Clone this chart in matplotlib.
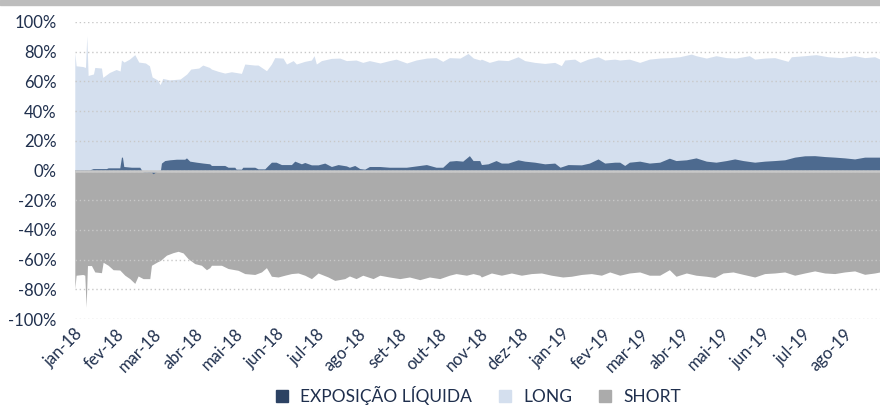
import numpy as np
import pandas as pd
import matplotlib
matplotlib.use("Agg")
import matplotlib.pyplot as plt
from matplotlib.lines import Line2D

plt.rcParams['font.family'] = ['Lato', 'DejaVu Sans']

# dias desde 01/01/2018 e valores (%)
long_dias = [0, 1, 6, 8, 9, 10, 14, 15, 20, 21, 26, 31, 34, 35, 37, 41, 45, 48, 53, 56,
             58, 62, 64, 66, 71, 79, 84, 87, 93, 96, 101, 102.5, 107.5, 112.5, 117.5, 125,
             127.5, 135, 137.5, 143.8, 147.5, 150, 156.2, 158.8, 163.8, 166.2, 172.5, 177.5,
             179.5, 181.2, 185, 192.5, 198.75, 203.75, 211, 216, 221, 229, 236, 241, 249, 256,
             264, 271, 276, 281, 289, 295, 299, 304, 305, 311, 317.5, 325, 332.5, 337.5, 345,
             352.5, 360, 365, 367.5, 375, 379, 385, 392.5, 397.5, 405, 408.75, 416, 423.75,
             431, 438.75, 446, 453.75, 462.5, 466, 473.75, 481, 488.75, 496, 506, 510, 517.5,
             525, 535, 537.5, 547.5, 556, 565, 575, 585, 592.5, 600, 604]
long_vals = [79.5, 70.5, 70, 69.4, 90.7, 64, 65, 69.4, 69, 62.7, 66, 68, 67, 74.4, 73, 75, 78,
             73, 72.4, 70.5, 63, 61, 57.8, 62, 61, 61.6, 65, 68.3, 69, 71, 69.4, 68.3, 66.8,
             65.6, 66.5, 65.4, 71.7, 71, 71, 67.2, 71.7, 76, 75.7, 71.7, 74, 71.7, 73.5, 74.4,
             77.3, 71.7, 74, 75.5, 75.7, 74, 74.4, 72.8, 74, 72.4, 74, 75, 72.4, 74.4, 75.7, 76,
             73.5, 76, 75.7, 78.8, 75.7, 74.4, 75, 72.8, 74.4, 74, 76.6, 74, 72.8, 72.1, 72.8,
             70.6, 74.4, 75, 72.8, 75, 76.6, 74.4, 75, 74.4, 75, 72.8, 75, 75.7, 76, 76.6, 78.4,
             77.3, 75.7, 77.3, 76, 75.7, 77.3, 75, 75.7, 76, 73.5, 76.6, 77.3, 78, 76.6, 76,
             77.3, 76, 76.6, 75]

short_dias = [0, 1, 6, 7.5, 8.5, 9.5, 12.5, 15, 20, 21.25, 25, 28.75, 33.75, 37.5, 41.25, 45,
              47.5, 51.25, 56.25, 57.5, 61.75, 64.25, 68.75, 73.75, 77.5, 81.25, 85, 90, 95,
              98.75, 101.25, 102.5, 110, 115, 122.5, 127.5, 135, 140, 143.75, 147.5, 152.5,
              157.5, 162.5, 167.5, 172.5, 177.5, 182.5, 190, 195, 202.5, 206, 211, 216, 223.75,
              228.75, 236, 243.75, 251, 258.75, 266, 273.75, 281, 286, 293.75, 298.75, 303.75,
              305, 312.5, 320, 327.5, 335, 342.5, 350, 357.5, 366, 372.5, 380, 387.5, 395,
              401.25, 408.75, 416, 423.75, 431, 438.75, 446, 451, 458.75, 466, 473.75, 480,
              486.25, 493.75, 501.25, 510, 517.5, 525, 532.5, 540, 547.5, 555, 562.5, 570,
              577.5, 585, 592.5, 600, 604]
short_vals = [-79.5, -70.5, -70, -70.5, -92, -64, -64, -68.3, -68.8, -61.8, -63.8, -66.8, -67,
              -70.5, -72.8, -76, -71, -72.8, -72.8, -63.8, -61.6, -60.5, -57, -55.3, -54.4,
              -55.5, -59.4, -62.7, -63.8, -66.8, -65.4, -63.8, -63.8, -66, -67.2, -69.4, -70,
              -68.3, -65.4, -71.2, -71.7, -70.5, -69.4, -69, -70.5, -72.8, -69, -71.7, -74,
              -72.8, -71, -72.8, -70.5, -72.8, -70.5, -71.7, -72.8, -71.7, -73.5, -71.7, -72.8,
              -70.5, -69.4, -70.5, -69.4, -70.5, -71.7, -69, -70.5, -69, -70.5, -69.4, -69,
              -70.5, -71.7, -71.2, -70, -69.4, -70.5, -68.3, -70.5, -69, -68.3, -70.5, -70.5,
              -66.8, -71.2, -69, -70.5, -71.2, -72, -69, -68.3, -69.9, -71.7, -69.4, -69,
              -68.3, -70.5, -69, -67.6, -69, -69.4, -68.3, -67.6, -69.9, -69, -68.3]

liq_dias = [0, 11, 13.75, 23.75, 25, 33.75, 35, 35.75, 36.75, 42.5, 48.75, 50, 51.25, 57.5,
            58.75, 60.75, 63.25, 64.25, 65, 67.5, 71.25, 76.25, 82.5, 83.75, 86.25, 91.25,
            96.25, 101.25, 102.5, 112.5, 115, 120, 121, 125, 126, 135, 137.5, 142.5, 145,
            147.5, 151, 155, 162.5, 165, 170, 172.5, 177.5, 182.5, 187.5, 192.5, 197.5,
            203.75, 206, 210, 213.75, 217.5, 221, 228.75, 236, 248.75, 263.75, 271, 276, 281,
            286, 291, 296, 298.75, 303.75, 305, 310, 316, 320, 325, 332.5, 337.5, 345, 352.5,
            360, 364, 370, 380, 386, 392.5, 397.5, 405, 408.75, 412.5, 416, 423.75, 431,
            438.75, 446, 451, 458.75, 466, 473.75, 481, 488.75, 495, 501.25, 510, 517.5, 525,
            532.5, 540, 547.5, 555, 562.5, 570, 577.5, 585, 592.5, 604]
liq_vals = [0.4, 0.4, 1.3, 1.3, 1.8, 1.8, 9, 9, 2.7, 2.2, 2.2, 0.4, -1, -1.2, -2.2, -1, 0,
            0.2, 5, 6.7, 7.2, 7.6, 7.6, 8.5, 6.3, 5.6, 5, 4.5, 3.4, 3.4, 2.2, 2.2, 0.9, 0.9,
            2.2, 2.2, 1.1, 1.1, 3.4, 5.6, 5.6, 4, 4, 6.3, 4.5, 5.4, 3.8, 3.8, 5, 2.7, 4, 3.1,
            2.2, 3.4, 1.3, 0.9, 2.7, 2.7, 2.2, 2.2, 4, 2.2, 2.2, 6.3, 6.7, 6.3, 10, 6.7, 6.7,
            4, 4.5, 6.7, 5, 5, 7.2, 6.3, 5.6, 4.5, 5, 2.2, 4, 3.8, 5, 7.8, 5, 5.6, 5.6, 3.4,
            5.6, 6.3, 5, 5.6, 8.3, 6.7, 7.2, 8.5, 6.3, 5.6, 6.7, 7.8, 6.7, 5.6, 6.3, 6.7, 7.2,
            9, 9.9, 10, 9.4, 9, 8.5, 7.8, 9, 9]

meses = ['jan-18', 'fev-18', 'mar-18', 'abr-18', 'mai-18', 'jun-18', 'jul-18', 'ago-18',
         'set-18', 'out-18', 'nov-18', 'dez-18', 'jan-19', 'fev-19', 'mar-19', 'abr-19',
         'mai-19', 'jun-19', 'jul-19', 'ago-19']
y_ticks = [-100, -80, -60, -40, -20, 0, 20, 40, 60, 80, 100]

inicio = pd.Timestamp('2018-01-01')
def to_dates(dias):
    return inicio + pd.to_timedelta(np.array(dias), unit='D')

azul_claro = '#d4dfee'
azul = '#4d6a8f'
cinza = '#ababab'
texto = '#1f2f4d'

fig = plt.figure(figsize=(8.8, 4.05), dpi=100)
ax = fig.add_axes([0.085, 0.2123, 0.915, 0.7334])

ax.fill_between(to_dates(long_dias), 0, long_vals, color=azul_claro, lw=0, zorder=1)
ax.fill_between(to_dates(short_dias), 0, short_vals, color=cinza, lw=0, zorder=1)
ax.fill_between(to_dates(liq_dias), 0, liq_vals, color=azul, lw=0, zorder=2)
ax.axhline(0, color='#c8c8c8', lw=1.8, zorder=4)

ax.set_ylim(-100, 100)
ax.set_xlim(inicio, to_dates([604])[0])
ax.set_yticks(y_ticks)
ax.set_yticklabels([f'{v}%' for v in y_ticks])
ax.yaxis.grid(True, color='#c8c8c8', linestyle=(0, (1, 2)), lw=1, zorder=3)
ax.set_axisbelow(False)

ticks = pd.date_range('2018-01-01', periods=len(meses), freq='MS')
ax.set_xticks(ticks)
ax.set_xticklabels(meses, rotation=45, ha='right', rotation_mode='anchor')
ax.tick_params(axis='both', length=0, labelsize=12, labelcolor=texto)
ax.tick_params(axis='x', pad=5)
ax.tick_params(axis='y', pad=13)
for s in ax.spines.values():
    s.set_visible(False)

# faixa cinza do titulo (cortada no topo)
fig.patches.append(plt.Rectangle((0, 1 - 5 / 405), 1, 5 / 405, transform=fig.transFigure,
                                 color='#bdbdbd', zorder=0))

handles = [Line2D([], [], marker='s', ls='', color='#2c4263', markersize=8),
           Line2D([], [], marker='s', ls='', color=azul_claro, markersize=8),
           Line2D([], [], marker='s', ls='', color=cinza, markersize=8)]
fig.legend(handles, ['EXPOSIÇÃO LÍQUIDA', 'LONG', 'SHORT'], loc='center',
           bbox_to_anchor=(0.537, 0.024), ncol=3, frameon=False, fontsize=12.5,
           handletextpad=0.05, columnspacing=0.9, labelcolor=texto, borderaxespad=0)

fig.savefig('out.png', dpi=100)
